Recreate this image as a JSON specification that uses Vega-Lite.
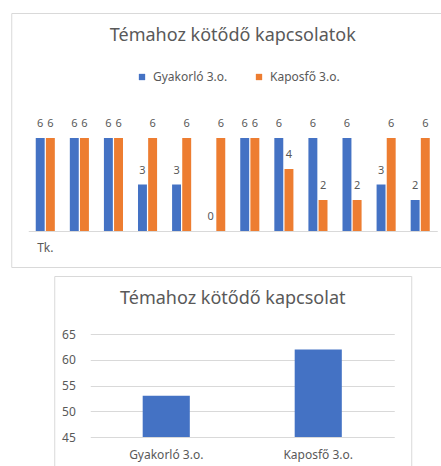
{
  "$schema": "https://vega.github.io/schema/vega-lite/v6.json",
  "padding": {"left": 10, "top": 12, "right": 0, "bottom": 0},
  "background": "white",
  "spacing": 7,
  "center": true,
  "config": {
    "font": "Noto Sans",
    "view": {"stroke": "#D9D9D9", "strokeWidth": 1},
    "axis": {"labelColor": "#595959", "labelFont": "Noto Sans", "labelFontSize": 12, "domainColor": "#D9D9D9", "ticks": false, "title": null},
    "title": {"color": "#595959", "font": "Noto Sans", "fontSize": 18, "fontWeight": "normal", "anchor": "middle", "frame": "group"}
  },
  "vconcat": [
    {
      "width": 443,
      "height": 254,
      "title": {"text": "Témahoz kötődő kapcsolatok", "offset": -32},
      "data": {"values": [
        {"csoport": 1, "iskola": "Gyakorló 3.o.", "db": 6}, {"csoport": 1, "iskola": "Kaposfő 3.o.", "db": 6},
        {"csoport": 2, "iskola": "Gyakorló 3.o.", "db": 6}, {"csoport": 2, "iskola": "Kaposfő 3.o.", "db": 6},
        {"csoport": 3, "iskola": "Gyakorló 3.o.", "db": 6}, {"csoport": 3, "iskola": "Kaposfő 3.o.", "db": 6},
        {"csoport": 4, "iskola": "Gyakorló 3.o.", "db": 3}, {"csoport": 4, "iskola": "Kaposfő 3.o.", "db": 6},
        {"csoport": 5, "iskola": "Gyakorló 3.o.", "db": 3}, {"csoport": 5, "iskola": "Kaposfő 3.o.", "db": 6},
        {"csoport": 6, "iskola": "Gyakorló 3.o.", "db": 0}, {"csoport": 6, "iskola": "Kaposfő 3.o.", "db": 6},
        {"csoport": 7, "iskola": "Gyakorló 3.o.", "db": 6}, {"csoport": 7, "iskola": "Kaposfő 3.o.", "db": 6},
        {"csoport": 8, "iskola": "Gyakorló 3.o.", "db": 6}, {"csoport": 8, "iskola": "Kaposfő 3.o.", "db": 4},
        {"csoport": 9, "iskola": "Gyakorló 3.o.", "db": 6}, {"csoport": 9, "iskola": "Kaposfő 3.o.", "db": 2},
        {"csoport": 10, "iskola": "Gyakorló 3.o.", "db": 6}, {"csoport": 10, "iskola": "Kaposfő 3.o.", "db": 2},
        {"csoport": 11, "iskola": "Gyakorló 3.o.", "db": 3}, {"csoport": 11, "iskola": "Kaposfő 3.o.", "db": 6},
        {"csoport": 12, "iskola": "Gyakorló 3.o.", "db": 2}, {"csoport": 12, "iskola": "Kaposfő 3.o.", "db": 6}
      ]},
      "encoding": {
        "x": {"field": "csoport", "type": "ordinal",
              "scale": {"range": [17, 426], "paddingInner": 0.44, "paddingOuter": 0.22},
              "axis": {"offset": -36, "labelAngle": 0, "labelPadding": 11, "labelExpr": "datum.value == 1 ? 'Tk.' : ''", "domainColor": "#D9D9D9"}},
        "xOffset": {"field": "iskola", "type": "nominal", "scale": {"paddingInner": 0.12}},
        "y": {"field": "db", "type": "quantitative", "scale": {"domain": [-2.32, 14.06], "nice": false, "zero": false}, "axis": null}
      },
      "layer": [
        {
          "mark": {"type": "bar"},
          "encoding": {
            "y2": {"datum": 0},
            "color": {"field": "iskola", "type": "nominal",
                      "scale": {"range": ["#4472C4", "#ED7D31"]},
                      "legend": {"orient": "none", "direction": "horizontal", "legendX": 125, "legendY": 58, "title": null,
                                 "symbolType": "square", "symbolSize": 40, "symbolStrokeWidth": 0, "labelFontSize": 12, "labelColor": "#595959",
                                 "labelOffset": 5, "columnPadding": 25, "padding": 0}}
          }
        },
        {
          "mark": {"type": "text", "baseline": "alphabetic", "dy": -11, "fontSize": 11, "color": "#595959"},
          "encoding": {"text": {"field": "db", "type": "quantitative"}}
        }
      ]
    },
    {
      "width": 357,
      "height": 193,
      "title": {"text": "Témahoz kötődő kapcsolat", "offset": -32},
      "data": {"values": [
        {"iskola": "Gyakorló 3.o.", "ertek": 53},
        {"iskola": "Kaposfő 3.o.", "ertek": 62}
      ]},
      "mark": {"type": "bar", "color": "#4472C4"},
      "encoding": {
        "x": {"field": "iskola", "type": "nominal", "sort": null,
              "scale": {"range": [36, 340], "paddingInner": 0.69, "paddingOuter": 0.345},
              "axis": {"offset": -32, "labelAngle": 0, "labelPadding": 12, "domain": false}},
        "y": {"field": "ertek", "type": "quantitative",
              "scale": {"domain": [45, 65], "range": [161, 58], "nice": false, "zero": false},
              "axis": {"offset": -36, "values": [45, 50, 55, 60, 65], "labelPadding": 15, "domain": false, "grid": true, "gridColor": "#D9D9D9"}},
        "y2": {"datum": 45}
      }
    }
  ]
}
